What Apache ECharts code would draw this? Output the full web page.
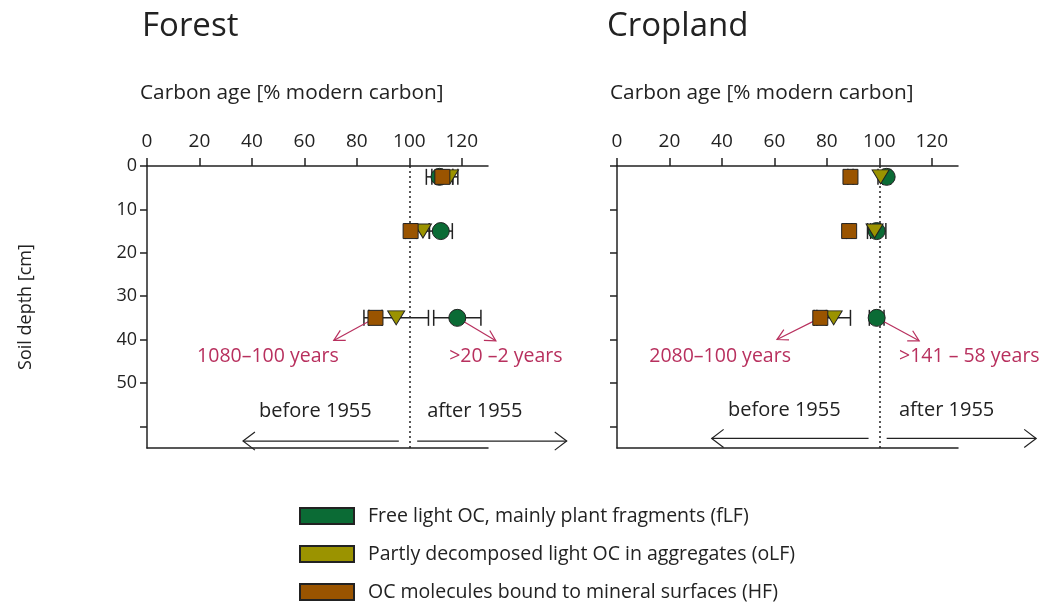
<!DOCTYPE html>
<html>
<head>
    <meta charset="utf-8">
    <title>Carbon age</title>
    <script src="https://cdn.jsdelivr.net/npm/echarts@6/dist/echarts.min.js"></script>
</head>
<body style="margin:0">
<div id="chartmain" style="width:1040px; height:605px;"></div>
<script type="text/javascript">
// depths of the three samples [cm]
var depths = [2.5, 15, 35];

// Forest, % modern carbon and error
var forestFLF = [111.5, 112, 118.3];
var forestFLFErr = [5, 4.4, 9];
var forestOLF = [115.5, 105.2, 95];
var forestOLFErr = [3, 2.5, 12.3];
var forestHF = [112.6, 100.5, 87.1];
var forestHFErr = [4, 2, 2.5];

// Cropland
var cropFLF = [102.8, 99, 99];
var cropFLFErr = [1.5, 3.5, 2.8];
var cropOLF = [100.5, 98.2, 82.6];
var cropOLFErr = [1, 1.5, 6.4];
var cropHF = [89, 88.5, 77.5];
var cropHFErr = [1, 1, 2.3];

var xTicks = [0, 20, 40, 60, 80, 100, 120];
var yTicks = [0, 10, 20, 30, 40, 50, 60];
var yLabels = [0, 10, 20, 30, 40, 50];

// annotation arrows [x1, depth1, x2, depth2] and their labels
var forestRedArrows = [[87.1, 35, 71.2, 40.2], [118.3, 35, 133, 40.3]];
var forestRedText = [[46.1, 44, '1080–100 years', 'center'], [115.2, 44, '>20 –2 years', 'left']];
var cropRedArrows = [[77.5, 35, 61, 40], [99, 35, 115.2, 40.3]];
var cropRedText = [[39.3, 44, '2080–100 years', 'center'], [107.5, 44, '>141 – 58 years', 'left']];
var forestBlackArrows = [[96, 63.4, 36.6, 63.4], [103, 63.4, 160, 63.4]];
var forestBlackText = [[64.2, 56.6, 'before 1955', 'center'], [106.8, 56.6, 'after 1955', 'left']];
var cropBlackArrows = [[95.9, 62.8, 36.1, 62.8], [102.8, 62.8, 159.8, 62.8]];
var cropBlackText = [[63.8, 56.3, 'before 1955', 'center'], [107.5, 56.3, 'after 1955', 'left']];

var names = ['Free light OC, mainly plant fragments (fLF)',
             'Partly decomposed light OC in aggregates (oLF)',
             'OC molecules bound to mineral surfaces (HF)'];
var colors = ['#0b6b35', '#9b9300', '#9a5400'];

var FONT = 'Open Sans';
var INK = '#222';
var RED = '#b8305e';

function pairs(vals, errs) {
    return vals.map(function (v, i) { return [v, depths[i], errs ? errs[i] : 0]; });
}

function scatter(k, grid, vals) {
    var sym = ['circle', 'triangle', 'rect'][k];
    var size = [17, [17, 14], 15][k];
    return {
        name: names[k], type: 'scatter', xAxisIndex: grid, yAxisIndex: grid,
        symbol: sym, symbolSize: size, symbolRotate: k === 1 ? 180 : 0,
        itemStyle: { color: colors[k], borderColor: INK, borderWidth: 1, opacity: 1 },
        data: pairs(vals), z: 5 + k
    };
}

function errBars(grid, vals, errs) {
    return {
        type: 'custom', xAxisIndex: grid, yAxisIndex: grid, z: 3, silent: true,
        data: pairs(vals, errs),
        renderItem: function (params, api) {
            var x = api.value(0), y = api.value(1), e = api.value(2);
            var lo = api.coord([x - e, y]), hi = api.coord([x + e, y]);
            var st = { stroke: INK, lineWidth: 1.5 };
            return { type: 'group', children: [
                { type: 'line', shape: { x1: lo[0], y1: lo[1], x2: hi[0], y2: hi[1] }, style: st },
                { type: 'line', shape: { x1: lo[0], y1: lo[1] - 8, x2: lo[0], y2: lo[1] + 8 }, style: st },
                { type: 'line', shape: { x1: hi[0], y1: hi[1] - 8, x2: hi[0], y2: hi[1] + 8 }, style: st }
            ] };
        }
    };
}

function arrows(grid, list, color, head, spread) {
    return {
        type: 'custom', xAxisIndex: grid, yAxisIndex: grid, z: 4, silent: true, clip: false,
        data: list,
        renderItem: function (params, api) {
            var a = api.coord([api.value(0), api.value(1)]);
            var b = api.coord([api.value(2), api.value(3)]);
            var ang = Math.atan2(b[1] - a[1], b[0] - a[0]);
            var p1 = [b[0] - head * Math.cos(ang - spread), b[1] - head * Math.sin(ang - spread)];
            var p2 = [b[0] - head * Math.cos(ang + spread), b[1] - head * Math.sin(ang + spread)];
            var st = { stroke: color, lineWidth: 1.2, fill: null };
            return { type: 'group', children: [
                { type: 'line', shape: { x1: a[0], y1: a[1], x2: b[0], y2: b[1] }, style: st },
                { type: 'polyline', shape: { points: [p1, b, p2] }, style: st }
            ] };
        }
    };
}

function texts(grid, list, color, size) {
    return {
        type: 'custom', xAxisIndex: grid, yAxisIndex: grid, z: 4, silent: true, clip: false,
        data: list.map(function (t) { return [t[0], t[1]]; }),
        renderItem: function (params, api) {
            var t = list[params.dataIndex];
            var p = api.coord([t[0], t[1]]);
            return { type: 'text', x: p[0], y: p[1], style: {
                text: t[2], fill: color, font: size + 'px ' + FONT, align: t[3], verticalAlign: 'middle'
            } };
        }
    };
}

function dotted(grid) {
    return {
        type: 'line', xAxisIndex: grid, yAxisIndex: grid, data: [], silent: true,
        markLine: {
            silent: true, symbol: 'none', animation: false, label: { show: false },
            lineStyle: { color: INK, type: [2, 3], width: 1.5 },
            data: [{ xAxis: 100 }]
        }
    };
}

function topAxis(grid) {
    return {
        gridIndex: grid, type: 'value', position: 'top', min: 0, max: 130,
        axisLine: { show: true, lineStyle: { color: INK, width: 1.5 } },
        axisTick: { show: true, inside: false, length: 8, customValues: xTicks, lineStyle: { color: INK, width: 1.5 } },
        axisLabel: { customValues: xTicks, margin: 15, color: INK, fontSize: 19, fontFamily: FONT },
        splitLine: { show: false }
    };
}

function bottomAxis(grid) {
    return {
        gridIndex: grid, type: 'value', position: 'bottom', min: 0, max: 130,
        axisLine: { show: true, lineStyle: { color: INK, width: 1.5 } },
        axisTick: { show: false }, axisLabel: { show: false }, splitLine: { show: false }
    };
}

function leftAxis(grid, labels) {
    var ax = {
        gridIndex: grid, type: 'value', inverse: true, min: 0, max: 65,
        axisLine: { show: true, lineStyle: { color: INK, width: 1.5 } },
        axisTick: { show: true, length: 7, customValues: yTicks, lineStyle: { color: INK, width: 1.5 } },
        axisLabel: { show: labels, customValues: yLabels, margin: 10, color: INK, fontSize: 18, fontFamily: FONT },
        splitLine: { show: false }
    };
    if (labels) {
        ax.name = 'Soil depth [cm]';
        ax.nameLocation = 'middle';
        ax.nameGap = 112;
        ax.nameRotate = 90;
        ax.nameTextStyle = { color: INK, fontSize: 18, fontFamily: FONT };
    }
    return ax;
}

var option = {
    backgroundColor: '#fff',
    animation: false,
    textStyle: { fontFamily: FONT },
    title: [
        { text: 'Forest', left: 137, top: 5, textStyle: { fontSize: 33, fontWeight: 'normal', color: INK, fontFamily: FONT } },
        { text: 'Cropland', left: 602, top: 5, textStyle: { fontSize: 33, fontWeight: 'normal', color: INK, fontFamily: FONT } },
        { text: 'Carbon age [% modern carbon]', left: 135, top: 78, textStyle: { fontSize: 20.8, fontWeight: 'normal', color: INK, fontFamily: FONT } },
        { text: 'Carbon age [% modern carbon]', left: 605, top: 78, textStyle: { fontSize: 20.8, fontWeight: 'normal', color: INK, fontFamily: FONT } }
    ],
    legend: {
        orient: 'vertical', left: 294, top: 501, height: 120, icon: 'rect',
        itemWidth: 54, itemHeight: 16, itemGap: 18,
        data: names,
        textStyle: { color: INK, fontSize: 19.5, fontFamily: FONT, padding: [0, 0, 0, 9] }
    },
    grid: [
        { left: 147, top: 166, width: 341, height: 282 },
        { left: 617, top: 166, width: 341, height: 282 }
    ],
    xAxis: [topAxis(0), topAxis(1), bottomAxis(0), bottomAxis(1)],
    yAxis: [leftAxis(0, true), leftAxis(1, false)],
    series: [
        dotted(0), dotted(1),
        errBars(0, forestFLF, forestFLFErr), errBars(0, forestOLF, forestOLFErr), errBars(0, forestHF, forestHFErr),
        errBars(1, cropFLF, cropFLFErr), errBars(1, cropOLF, cropOLFErr), errBars(1, cropHF, cropHFErr),
        scatter(0, 0, forestFLF), scatter(1, 0, forestOLF), scatter(2, 0, forestHF),
        scatter(0, 1, cropFLF), scatter(1, 1, cropOLF), scatter(2, 1, cropHF),
        arrows(0, forestRedArrows, RED, 12, 0.5), arrows(1, cropRedArrows, RED, 12, 0.5),
        arrows(0, forestBlackArrows, INK, 15, 0.65), arrows(1, cropBlackArrows, INK, 15, 0.65),
        texts(0, forestRedText, RED, 19.5), texts(1, cropRedText, RED, 19.5),
        texts(0, forestBlackText, INK, 20), texts(1, cropBlackText, INK, 20)
    ]
};

var myChart = echarts.init(document.getElementById('chartmain'));
myChart.setOption(option);
</script>
</body>
</html>
